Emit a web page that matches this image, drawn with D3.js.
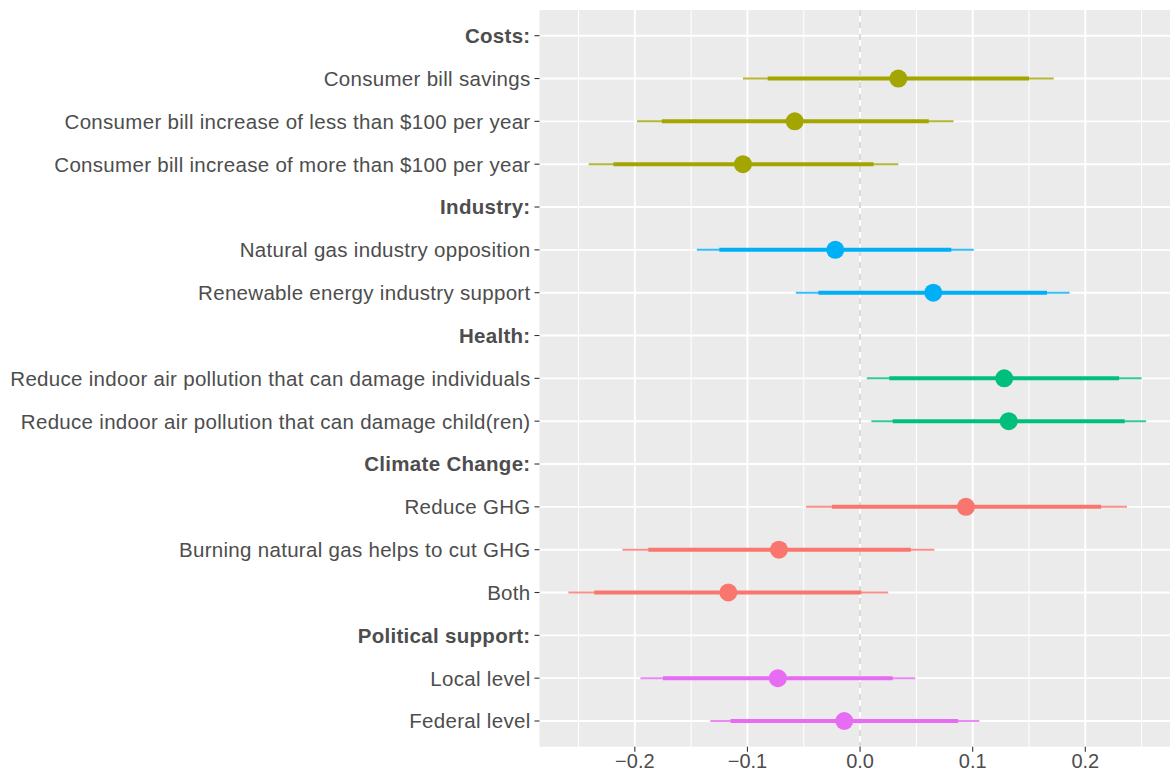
<!DOCTYPE html>
<html>
<head>
<meta charset="utf-8">
<script src="https://cdn.jsdelivr.net/npm/d3@7"></script>
<style>
  html, body { margin: 0; padding: 0; background: #ffffff; }
  svg { display: block; }
  text { font-family: "Liberation Sans", Arial, Helvetica, sans-serif; }
</style>
</head>
<body>
<svg id="chart" width="1170" height="771"></svg>
<script>
// Attribute groups (shown as bold header rows) and their colours
const groups = ["Costs:", "Industry:", "Health:", "Climate Change:", "Political support:"];
const groupColors = ["#A3A500", "#00B0F6", "#00BF7D", "#F8766D", "#E76BF3"];

// Attribute levels, in display order
const levels = [
  "Consumer bill savings",
  "Consumer bill increase of less than $100 per year",
  "Consumer bill increase of more than $100 per year",
  "Natural gas industry opposition",
  "Renewable energy industry support",
  "Reduce indoor air pollution that can damage individuals",
  "Reduce indoor air pollution that can damage child(ren)",
  "Reduce GHG",
  "Burning natural gas helps to cut GHG",
  "Both",
  "Local level",
  "Federal level"
];
const levelGroup = [0, 0, 0, 1, 1, 2, 2, 3, 3, 3, 4, 4];

// Estimates with 95% (thin) and 90% (thick) intervals
const estimate = [0.034, -0.058, -0.104, -0.022, 0.065, 0.128, 0.132, 0.094, -0.072, -0.117, -0.073, -0.014];
const lower95  = [-0.104, -0.198, -0.241, -0.145, -0.057, 0.006, 0.010, -0.048, -0.211, -0.259, -0.195, -0.133];
const upper95  = [0.172, 0.083, 0.034, 0.101, 0.186, 0.250, 0.254, 0.237, 0.066, 0.025, 0.049, 0.106];
const lower90  = [-0.082, -0.176, -0.219, -0.125, -0.037, 0.026, 0.029, -0.025, -0.188, -0.236, -0.175, -0.115];
const upper90  = [0.150, 0.061, 0.012, 0.081, 0.166, 0.230, 0.235, 0.214, 0.045, 0.001, 0.029, 0.087];

const xTicks = [-0.2, -0.1, 0.0, 0.1, 0.2];
const xMinor = [-0.25, -0.15, -0.05, 0.05, 0.15, 0.25];

// Row order: each group header followed by its levels
const rows = [];
groups.forEach((g, gi) => {
  rows.push({ label: g, header: true });
  levels.forEach((l, i) => {
    if (levelGroup[i] === gi) rows.push({ label: l, header: false });
  });
});

const data = levels.map((l, i) => ({
  label: l,
  color: groupColors[levelGroup[i]],
  est: estimate[i], lo95: lower95[i], hi95: upper95[i], lo90: lower90[i], hi90: upper90[i]
}));

const svg = d3.select("#chart");
const panel = { left: 539.5, top: 10, right: 1175, bottom: 746.7 };

// Continuous x with 5% expansion of the data range
const xmin = d3.min(lower95), xmax = d3.max(upper95);
const pad = (xmax - xmin) * 0.05;
const x = d3.scaleLinear().domain([xmin - pad, xmax + pad]).range([panel.left, panel.right]);

const y = d3.scalePoint()
  .domain(rows.map(r => r.label))
  .range([panel.top, panel.bottom])
  .padding(0.6);

// Panel background
svg.append("rect")
  .attr("x", panel.left).attr("y", panel.top)
  .attr("width", panel.right - panel.left).attr("height", panel.bottom - panel.top)
  .attr("fill", "#EBEBEB");

const grid = svg.append("g");
grid.selectAll("line.minor").data(xMinor).join("line")
  .attr("class", "minor")
  .attr("x1", d => x(d)).attr("x2", d => x(d))
  .attr("y1", panel.top).attr("y2", panel.bottom)
  .attr("stroke", "#ffffff").attr("stroke-width", 1);
grid.selectAll("line.majorx").data(xTicks).join("line")
  .attr("class", "majorx")
  .attr("x1", d => x(d)).attr("x2", d => x(d))
  .attr("y1", panel.top).attr("y2", panel.bottom)
  .attr("stroke", "#ffffff").attr("stroke-width", 1.9);
grid.selectAll("line.majory").data(rows).join("line")
  .attr("class", "majory")
  .attr("x1", panel.left).attr("x2", panel.right)
  .attr("y1", d => y(d.label)).attr("y2", d => y(d.label))
  .attr("stroke", "#ffffff").attr("stroke-width", 1.9);

// Reference line at zero
svg.append("line")
  .attr("x1", x(0)).attr("x2", x(0))
  .attr("y1", panel.top).attr("y2", panel.bottom)
  .attr("stroke", "#BEBEBE").attr("stroke-width", 1.1)
  .attr("stroke-dasharray", "6,6");

// Intervals and point estimates
const marks = svg.append("g");
marks.selectAll("line.ci95").data(data).join("line")
  .attr("class", "ci95")
  .attr("x1", d => x(d.lo95)).attr("x2", d => x(d.hi95))
  .attr("y1", d => y(d.label)).attr("y2", d => y(d.label))
  .attr("stroke", d => d.color).attr("stroke-opacity", 0.8).attr("stroke-width", 2);
marks.selectAll("line.ci90").data(data).join("line")
  .attr("class", "ci90")
  .attr("x1", d => x(d.lo90)).attr("x2", d => x(d.hi90))
  .attr("y1", d => y(d.label)).attr("y2", d => y(d.label))
  .attr("stroke", d => d.color).attr("stroke-width", 4);
marks.selectAll("circle").data(data).join("circle")
  .attr("cx", d => x(d.est)).attr("cy", d => y(d.label))
  .attr("r", 9)
  .attr("fill", d => d.color);

// Y axis (labels and ticks)
const yAxis = svg.append("g");
yAxis.selectAll("line").data(rows).join("line")
  .attr("x1", panel.left - 5).attr("x2", panel.left)
  .attr("y1", d => y(d.label)).attr("y2", d => y(d.label))
  .attr("stroke", "#333333").attr("stroke-width", 1.1);
yAxis.selectAll("text").data(rows).join("text")
  .attr("x", panel.left - 9)
  .attr("y", d => y(d.label))
  .attr("dy", "0.36em")
  .attr("text-anchor", "end")
  .attr("font-size", 20.5)
  .attr("letter-spacing", 0.3)
  .attr("font-weight", d => d.header ? "bold" : "normal")
  .attr("fill", "#4D4D4D")
  .text(d => d.label);

// X axis (ticks and labels)
const xAxis = svg.append("g");
xAxis.selectAll("line").data(xTicks).join("line")
  .attr("x1", d => x(d)).attr("x2", d => x(d))
  .attr("y1", panel.bottom).attr("y2", panel.bottom + 5)
  .attr("stroke", "#333333").attr("stroke-width", 1.1);
xAxis.selectAll("text").data(xTicks).join("text")
  .attr("x", d => x(d))
  .attr("y", 768)
  .attr("text-anchor", "middle")
  .attr("font-size", 20)
  .attr("fill", "#4D4D4D")
  .text(d => d3.format(".1f")(d).replace("-", "\u2212"));
</script>
</body>
</html>
